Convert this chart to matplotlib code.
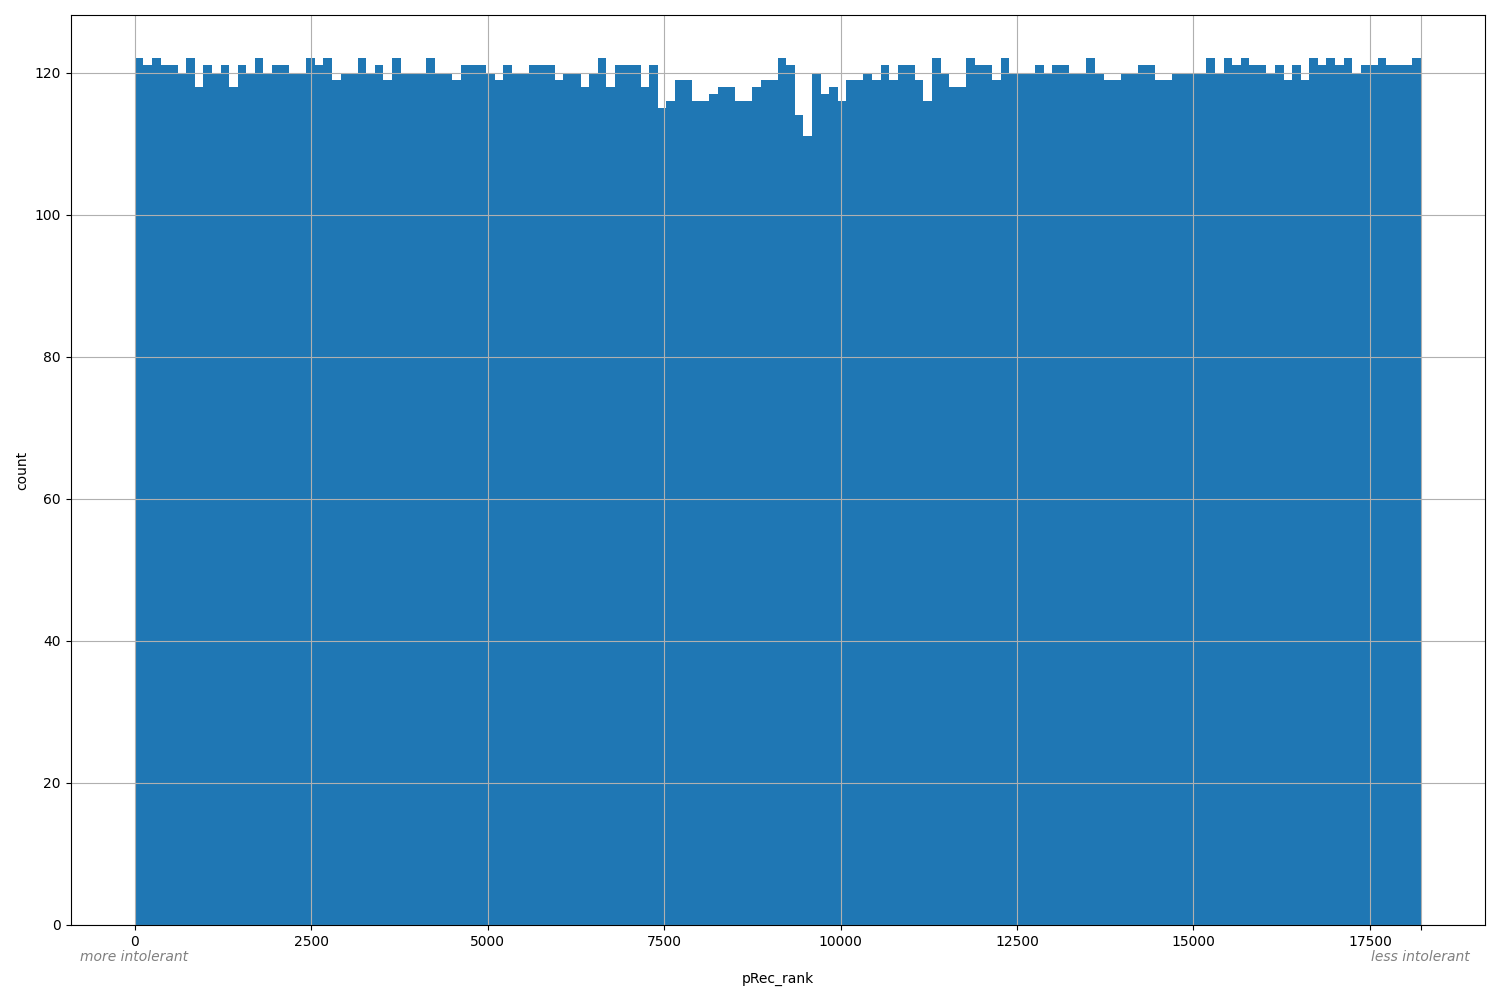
import numpy as np
import matplotlib
matplotlib.use("Agg")
import matplotlib.pyplot as plt

# Histogram of pRec_rank: 150 equal-width bins from 0 to max rank
rank_min = 0
rank_max = 18220
counts = [
    122, 121, 122, 121, 121, 120, 122, 118, 121, 120, 121, 118, 121, 120, 122,
    120, 121, 121, 120, 120, 122, 121, 122, 119, 120, 120, 122, 120, 121, 119,
    122, 120, 120, 120, 122, 120, 120, 119, 121, 121, 121, 120, 119, 121, 120,
    120, 121, 121, 121, 119, 120, 120, 118, 120, 122, 118, 121, 121, 121, 118,
    121, 115, 116, 119, 119, 116, 116, 117, 118, 118, 116, 116, 118, 119, 119,
    122, 121, 114, 111, 120, 117, 118, 116, 119, 119, 120, 119, 121, 119, 121,
    121, 119, 116, 122, 120, 118, 118, 122, 121, 121, 119, 122, 120, 120, 120,
    121, 120, 121, 121, 120, 120, 122, 120, 119, 119, 120, 120, 121, 121, 119,
    119, 120, 120, 120, 120, 122, 120, 122, 121, 122, 121, 121, 120, 121, 119,
    121, 119, 122, 121, 122, 121, 122, 120, 121, 121, 122, 121, 121, 121, 122,
]
x_label = "pRec_rank"
y_label = "count"
left_note = "more intolerant"
right_note = "less intolerant"

edges = np.linspace(rank_min, rank_max, len(counts) + 1)

fig, ax = plt.subplots(figsize=(15, 10), dpi=100)
ax.hist(edges[:-1], bins=edges, weights=counts, color="#1f77b4")
ax.grid(True)

ticks = list(range(0, 17501, 2500)) + [rank_max]
ax.set_xticks(ticks)
ax.set_xticklabels([str(t) for t in ticks[:-1]] + [""])

ax.set_xlabel(x_label, labelpad=16.5)
ax.set_ylabel(y_label)

ax.text(0.007, -0.028, left_note, transform=ax.transAxes, ha="left", va="top",
        color="gray", style="italic", fontsize=10)
ax.text(0.989, -0.028, right_note, transform=ax.transAxes, ha="right", va="top",
        color="gray", style="italic", fontsize=10)

fig.subplots_adjust(left=0.047, right=0.99, top=0.985, bottom=0.075)
fig.savefig("out.png")
